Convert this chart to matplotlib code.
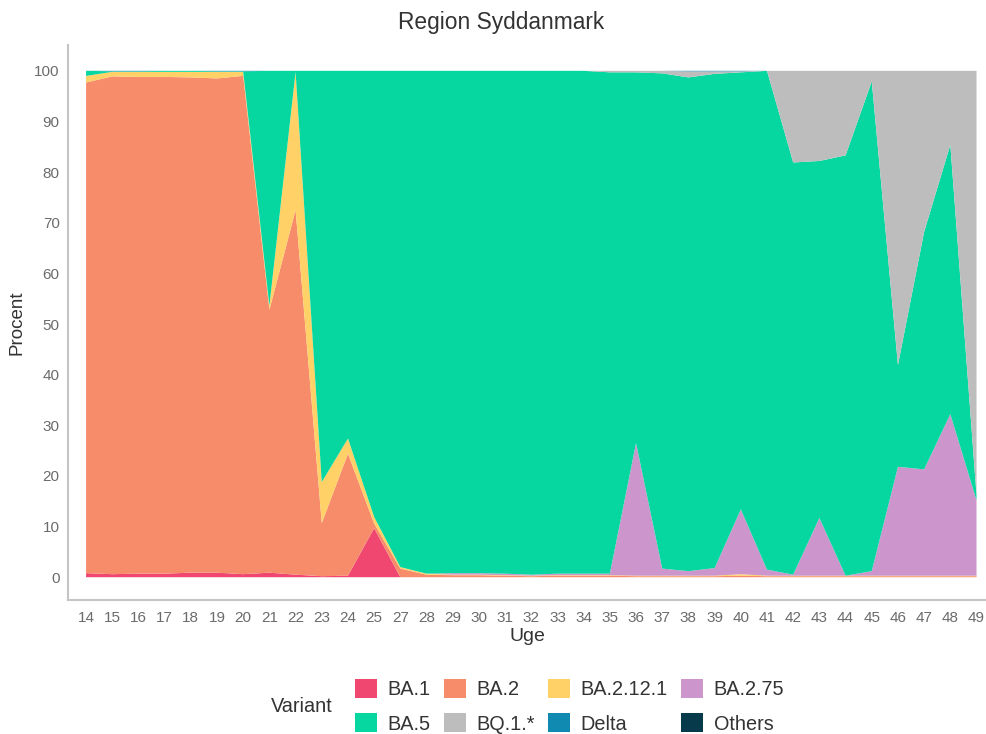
import numpy as np
import matplotlib
matplotlib.use("Agg")
import matplotlib.pyplot as plt
from matplotlib.patches import Patch

plt.rcParams["font.family"] = ["Liberation Sans", "DejaVu Sans"]

# ── Data (percent per week, week 26 missing) ─────────────────────────────────
weeks = ["14", "15", "16", "17", "18", "19", "20", "21", "22", "23", "24", "25",
         "27", "28", "29", "30", "31", "32", "33", "34", "35", "36", "37", "38",
         "39", "40", "41", "42", "43", "44", "45", "46", "47", "48", "49"]

ba1 = [0.8, 0.6, 0.7, 0.7, 0.9, 0.9, 0.6, 0.9, 0.5, 0.2, 0.3, 9.7,
       0.0, 0.0, 0.0, 0.0, 0.0, 0.0, 0.0, 0.0, 0.0, 0.0, 0.0, 0.0,
       0.0, 0.0, 0.0, 0.0, 0.0, 0.0, 0.0, 0.0, 0.0, 0.0, 0.0]
ba2 = [96.9, 98.3, 98.1, 98.1, 97.8, 97.6, 98.4, 51.9, 72.0, 10.5, 24.1, 0.9,
       1.7, 0.5, 0.4, 0.4, 0.3, 0.2, 0.3, 0.3, 0.3, 0.2, 0.2, 0.2,
       0.2, 0.3, 0.2, 0.2, 0.2, 0.2, 0.2, 0.2, 0.2, 0.2, 0.2]
ba2121 = [1.3, 0.9, 1.0, 1.0, 1.1, 1.3, 0.8, 0.8, 27.3, 8.1, 3.0, 1.3,
          0.3, 0.2, 0.1, 0.1, 0.1, 0.1, 0.1, 0.1, 0.1, 0.1, 0.1, 0.1,
          0.1, 0.3, 0.1, 0.1, 0.1, 0.1, 0.1, 0.1, 0.1, 0.1, 0.1]
ba275 = [0.0, 0.0, 0.0, 0.0, 0.0, 0.0, 0.0, 0.0, 0.0, 0.0, 0.0, 0.0,
         0.0, 0.0, 0.3, 0.3, 0.3, 0.2, 0.3, 0.3, 0.3, 26.2, 1.4, 0.9,
         1.5, 12.8, 1.2, 0.2, 11.4, 0.0, 0.9, 21.5, 21.0, 31.9, 14.9]
ba5 = [1.0, 0.1, 0.1, 0.2, 0.2, 0.1, 0.1, 46.4, 0.2, 81.2, 72.6, 88.1,
       98.0, 99.3, 99.2, 99.2, 99.3, 99.5, 99.3, 99.3, 99.0, 73.2, 97.8, 97.5,
       97.6, 86.3, 98.5, 81.4, 70.5, 83.0, 96.7, 20.1, 46.9, 53.2, 1.0]
bq1 = [0.0, 0.0, 0.0, 0.0, 0.0, 0.0, 0.0, 0.0, 0.0, 0.0, 0.0, 0.0,
       0.0, 0.0, 0.0, 0.0, 0.0, 0.0, 0.0, 0.0, 0.3, 0.3, 0.5, 1.2,
       0.5, 0.2, 0.0, 18.1, 17.8, 16.7, 2.1, 58.1, 31.8, 14.6, 83.8]
delta = [0.0, 0.1, 0.1, 0.0, 0.0, 0.1, 0.1, 0.0, 0.0, 0.0, 0.0, 0.0,
         0.0, 0.0, 0.0, 0.0, 0.0, 0.0, 0.0, 0.0, 0.0, 0.0, 0.0, 0.1,
         0.1, 0.1, 0.0, 0.0, 0.0, 0.0, 0.0, 0.0, 0.0, 0.0, 0.0]
others = [0.0] * len(weeks)

variants = ["BA.1", "BA.2", "BA.2.12.1", "BA.2.75", "BA.5", "BQ.1.*", "Delta", "Others"]
colors = ["#EF476F", "#F78C6B", "#FFD166", "#CC95CB",
          "#06D6A0", "#BDBDBD", "#118AB2", "#073B4C"]

# ── Plot ─────────────────────────────────────────────────────────────────────
fig = plt.figure(figsize=(9.87, 7.34), dpi=100)
ax = fig.add_axes([68 / 987, 134 / 734, 1 - 68 / 987, (600 - 45) / 734])

x = np.arange(len(weeks))
ax.stackplot(x, ba1, ba2, ba2121, ba275, ba5, bq1, delta, others,
             colors=colors, linewidth=0)

ax.set_xlim(-0.69, 34.4)
ax.set_ylim(-4.5, 105.1)
ax.set_xticks(x)
ax.set_xticklabels(weeks)
ax.set_yticks(np.arange(0, 101, 10))

GRAY = "#C4C4C4"
for side in ["top", "right"]:
    ax.spines[side].set_visible(False)
for side in ["left", "bottom"]:
    ax.spines[side].set_color(GRAY)
    ax.spines[side].set_linewidth(1.5)
ax.tick_params(length=0, labelsize=11, colors="#6B6B6B")
ax.tick_params(axis="x", pad=8)
ax.tick_params(axis="y", pad=6)

ax.set_xlabel("Uge", fontsize=14, color="#333333", labelpad=2)
ax.set_ylabel("Procent", fontsize=13.5, color="#333333", labelpad=6)
fig.text(0.5 + 8 / 987, 1 - 22 / 734, "Region Syddanmark", fontsize=16.4,
         color="#333333", ha="center", va="center")

# legend: matplotlib fills column-wise, so interleave the two rows
order = [0, 4, 1, 5, 2, 6, 3, 7]
handles = [Patch(facecolor=colors[i], edgecolor="none") for i in order]
labels = [variants[i] for i in order]
fig.legend(handles, labels, ncol=4, loc="upper left",
           bbox_to_anchor=(355 / 987, 1 - 679 / 734),
           frameon=False, fontsize=14.3, handlelength=1.1, handleheight=1.1,
           handletextpad=0.55, columnspacing=0.65, labelspacing=0.71,
           borderpad=0, borderaxespad=0, labelcolor="#333333")
fig.text(302 / 987, 1 - 706 / 734, "Variant", fontsize=14.3, color="#333333",
         ha="center", va="center")

fig.savefig("out.png", dpi=100, facecolor="white")
